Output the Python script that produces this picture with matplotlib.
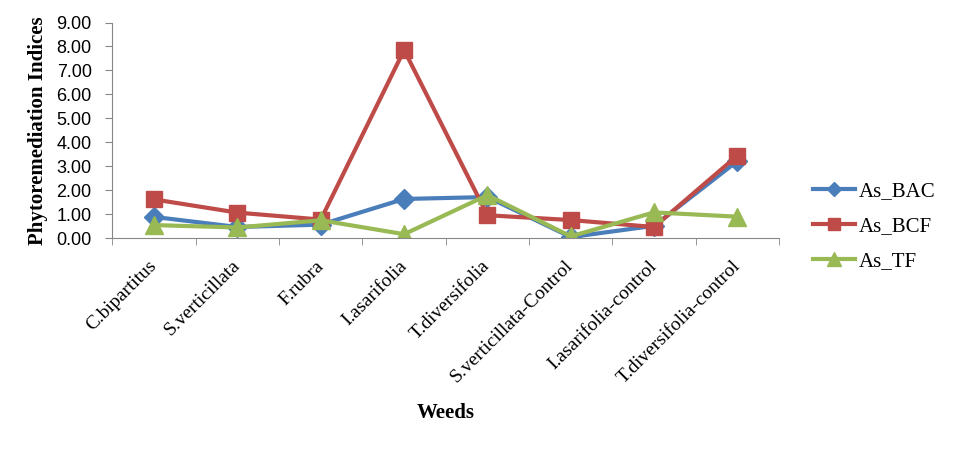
import matplotlib.pyplot as plt
import matplotlib.transforms as mtransforms

# datos
weeds = ['C.bipartitus', 'S.verticillata', 'F.rubra', 'I.asarifolia', 'T.diversifolia',
         'S.verticillata-Control', 'I.asarifolia-control', 'T.diversifolia-control']
as_bac = [0.89, 0.47, 0.57, 1.64, 1.72, 0.05, 0.52, 3.22]
as_bcf = [1.62, 1.07, 0.78, 7.85, 0.96, 0.76, 0.47, 3.45]
as_tf = [0.55, 0.45, 0.75, 0.17, 1.80, 0.08, 1.08, 0.90]

serif = 'Liberation Serif'
grey = '#868686'

fig = plt.figure(figsize=(9.55, 4.5), dpi=100)
ax = fig.add_axes([0.1178, 0.4705, 0.698, 0.4795])

x = range(len(weeds))
ax.plot(x, as_bac, color='#4A7EBB', lw=3, marker='D', ms=10, label='As_BAC')
ax.plot(x, as_bcf, color='#BE4B48', lw=3, marker='s', ms=12, label='As_BCF')
ax.plot(x, as_tf, color='#98B954', lw=3, marker='^', ms=13, label='As_TF')

ax.set_xlim(-0.5, len(weeds) - 0.5)
ax.set_ylim(0, 9)
ax.set_yticks(range(10))
ax.set_yticklabels(['%.2f' % v for v in range(10)], fontsize=13, family='Liberation Sans')
ax.set_xticks(list(x))
ax.set_xticklabels(weeds, rotation=45, ha='right', va='center', rotation_mode='anchor',
                   fontsize=14, family=serif)
# etiquetas corridas un poco a la derecha como en excel
shift = mtransforms.ScaledTranslation(6 / 72, 0, fig.dpi_scale_trans)
for lab in ax.get_xticklabels():
    lab.set_transform(lab.get_transform() + shift)
ax.set_xticks([i - 0.5 for i in range(len(weeds) + 1)], minor=True)
ax.tick_params(axis='x', which='major', length=0, pad=18)
ax.tick_params(axis='x', which='minor', length=5, color=grey, direction='out')
ax.tick_params(axis='y', length=5, color=grey, direction='out', pad=10)

for s in ['top', 'right']:
    ax.spines[s].set_visible(False)
for s in ['left', 'bottom']:
    ax.spines[s].set_color(grey)

ax.set_ylabel('Phytoremediation Indices', family=serif, fontweight='bold', fontsize=15, labelpad=6)
fig.text(0.467, 0.072, 'Weeds', family=serif, fontweight='bold', fontsize=15, ha='center')

leg = ax.legend(loc='center left', bbox_to_anchor=(1.022, 0.055), frameon=False,
                prop={'family': serif, 'size': 15}, handlelength=2.05,
                labelspacing=0.75, handletextpad=0.15, markerscale=0.75)

fig.savefig('out.png', dpi=100)
